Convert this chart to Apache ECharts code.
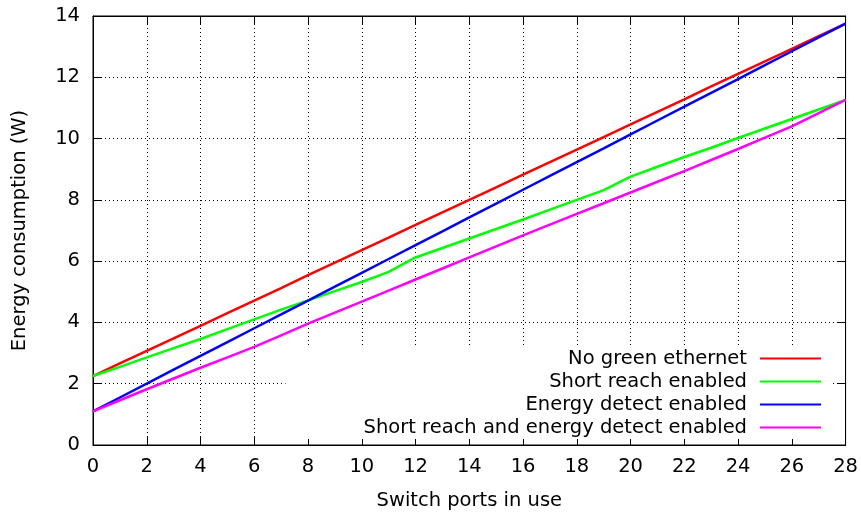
<!DOCTYPE html>
<html>
<head>
<meta charset="utf-8">
<script src="https://cdn.jsdelivr.net/npm/echarts@6/dist/echarts.min.js"></script>
<style>html,body{margin:0;padding:0;background:#fff}#c{width:861px;height:516px}</style>
</head>
<body>
<div id="c"></div>
<script>
const ports = [0,1,2,3,4,5,6,7,8,9,10,11,12,13,14,15,16,17,18,19,20,21,22,23,24,25,26,27,28];
const noGreen = [2.25,2.66,3.07,3.48,3.89,4.30,4.71,5.12,5.54,5.95,6.36,6.77,7.18,7.59,8.00,8.41,8.82,9.23,9.64,10.05,10.46,10.87,11.28,11.70,12.11,12.52,12.93,13.34,13.75];
const shortReach = [2.25,2.55,2.86,3.16,3.46,3.78,4.10,4.42,4.72,5.02,5.32,5.65,6.12,6.43,6.74,7.05,7.36,7.68,8.00,8.32,8.76,9.08,9.40,9.70,10.02,10.33,10.64,10.95,11.26];
const energyDetect = [1.10,1.55,2.00,2.46,2.91,3.36,3.81,4.26,4.71,5.17,5.62,6.07,6.52,6.97,7.43,7.88,8.33,8.78,9.23,9.68,10.14,10.59,11.04,11.49,11.94,12.40,12.85,13.30,13.75];
const bothEnabled = [1.10,1.46,1.82,2.17,2.52,2.86,3.20,3.58,3.96,4.32,4.68,5.04,5.40,5.76,6.12,6.48,6.84,7.19,7.54,7.89,8.24,8.59,8.94,9.30,9.66,10.03,10.40,10.83,11.26];
const seriesNames = ['No green ethernet','Short reach enabled','Energy detect enabled','Short reach and energy detect enabled'];
const seriesColors = ['#ff0000','#00ff00','#0000ff','#ff00ff'];
const seriesData = [noGreen, shortReach, energyDetect, bothEnabled];
const xTitle = 'Switch ports in use';
const yTitle = 'Energy consumption (W)';

const FONT = 'DejaVu Sans';
const FS = 19.5;
const gridLine = {show:true, lineStyle:{color:'#000', width:1, type:[1,3]}};
const chart = echarts.init(document.getElementById('c'), null, {renderer:'canvas'});
chart.setOption({
  animation:false,
  backgroundColor:'#fff',
  textStyle:{fontFamily:FONT},
  grid:{left:93, right:14, top:16, bottom:70, show:true, borderColor:'#000', borderWidth:1},
  xAxis:[{
    type:'value', min:0, max:28, interval:2, position:'bottom',
    name:xTitle, nameLocation:'middle', nameGap:46,
    nameTextStyle:{fontSize:FS, color:'#000', fontFamily:FONT},
    axisLine:{show:true, onZero:false, lineStyle:{color:'#000', width:1}},
    axisTick:{show:true, inside:true, length:8, lineStyle:{color:'#000'}},
    axisLabel:{fontSize:FS, color:'#000', margin:12, fontFamily:FONT},
    splitLine:gridLine
  },{
    type:'value', min:0, max:28, interval:2, position:'top',
    axisLine:{show:true, onZero:false, lineStyle:{color:'#000', width:1}},
    axisTick:{show:true, inside:true, length:8, lineStyle:{color:'#000'}},
    axisLabel:{show:false}, splitLine:{show:false}
  }],
  yAxis:[{
    type:'value', min:0, max:14, interval:2, position:'left',
    name:yTitle, nameLocation:'middle', nameGap:63,
    nameTextStyle:{fontSize:FS, color:'#000', fontFamily:FONT},
    axisLine:{show:true, onZero:false, lineStyle:{color:'#000', width:1}},
    axisTick:{show:true, inside:true, length:8, lineStyle:{color:'#000'}},
    axisLabel:{fontSize:FS, color:'#000', margin:13, fontFamily:FONT},
    splitLine:gridLine
  },{
    type:'value', min:0, max:14, interval:2, position:'right',
    axisLine:{show:true, onZero:false, lineStyle:{color:'#000', width:1}},
    axisTick:{show:true, inside:true, length:8, lineStyle:{color:'#000'}},
    axisLabel:{show:false}, splitLine:{show:false}
  }],
  legend:{
    orient:'vertical', align:'right', right:28, top:346,
    backgroundColor:'#fff', padding:[2,12,1,78],
    itemWidth:61, itemHeight:2, itemGap:2, icon:'rect',
    textStyle:{fontSize:FS, color:'#000', fontFamily:FONT, lineHeight:21, padding:[0,8,0,0]},
    data:seriesNames
  },
  series: seriesNames.map((n,i)=>({
    name:n, type:'line', xAxisIndex:0, yAxisIndex:0,
    data: ports.map((p,j)=>[p, seriesData[i][j]]),
    showSymbol:false, symbol:'none',
    color:seriesColors[i],
    lineStyle:{color:seriesColors[i], width:2.5},
    emphasis:{disabled:true}
  }))
});
</script>
</body>
</html>
